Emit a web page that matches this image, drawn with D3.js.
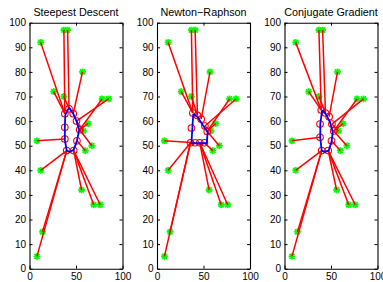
<!DOCTYPE html>
<html>
<head>
<meta charset="utf-8">
<script src="https://cdn.jsdelivr.net/npm/d3@7"></script>
<style>
  body { margin: 0; background: #fff; }
  svg { display: block; font-family: "Liberation Sans", Arial, Helvetica, sans-serif; }
</style>
</head>
<body>
<div id="chart"></div>
<script>
// Cable net solved three ways: fixed anchors (green), free nodes (red o), ring (blue)

const titles = ["Steepest Descent", "Newton\u2212Raphson", "Conjugate Gradient"];

// fixed anchor points [x, y]
const anchors = [
  [8, 5], [14, 15], [12, 40], [8, 52], [12, 92], [26, 72], [37, 70],
  [37, 97], [41, 97], [57, 80], [78, 69], [85, 69], [63, 59], [58, 56],
  [67, 50], [60, 48], [56, 32], [69, 26], [76, 26]
];

// which free node each anchor is tied to
const links = [7, 7, 7, 8, 0, 0, 1, 0, 1, 2, 4, 3, 4, 3, 4, 5, 6, 6, 6];

// free node positions for each method
const nodesSD = [
  [38, 63], [42.5, 65], [47, 63], [50.5, 60], [54, 56.5],
  [51, 52], [47.5, 48], [40, 48], [38, 52.7], [38, 57.5]
];
const nodesNR = [
  [38.5, 63.3], [43.5, 62.3], [47.5, 60.8], [51.5, 58], [54, 55.8],
  [51, 51.2], [46, 51.2], [36, 51.2], [41, 51.2], [37, 57.2]
];
const nodesCG = [
  [39.5, 64.5], [44, 63.3], [48, 61.8], [51, 58.8], [53, 56],
  [50.5, 52], [47, 48], [40, 48], [38.2, 53.4], [38.2, 58.8]
];

// blue ring through the free nodes
const ringSD = [
  [42.5, 65.5], [47, 63], [50.5, 60], [53.5, 56.5], [51, 52], [47.5, 48.3],
  [43, 47.5], [40, 48], [38, 52.5], [38, 57.5], [38.5, 62.5], [42.5, 65.5]
];
const ringNR = [
  [39, 63], [44, 61.5], [49, 58.5], [54.5, 55.5], [53.5, 51],
  [37, 51], [39, 63]
];
const ringCG = [
  [40.5, 64.5], [45, 62.5], [49, 59.5], [52, 55.5], [50.5, 51.5], [47.5, 48],
  [43, 47.5], [40, 48], [38.5, 53], [38.5, 59], [40.5, 64.5]
];

const yTicks = d3.range(0, 101, 10);
const xTicks = [0, 50, 100];

const panels = [
  { title: titles[0], nodes: nodesSD, ring: ringSD },
  { title: titles[1], nodes: nodesNR, ring: ringNR },
  { title: titles[2], nodes: nodesCG, ring: ringCG }
];

const W = 383, H = 282;
const svg = d3.select("#chart").append("svg").attr("width", W).attr("height", H);

const axLeft = [29.5, 157, 284.5], axW = 93;
const axTop = 22.7, axBot = 268.7;

panels.forEach((p, i) => {
  const x = d3.scaleLinear().domain([0, 100]).range([axLeft[i], axLeft[i] + axW]);
  const y = d3.scaleLinear().domain([0, 100]).range([axBot, axTop]);
  const g = svg.append("g");

  // green anchors (asterisk, drawn heavy so it reads as a blob)
  const star = g.append("g").selectAll("g").data(anchors).enter().append("g")
    .attr("transform", d => `translate(${x(d[0])},${y(d[1])})`);
  star.append("circle").attr("r", 2).attr("fill", "#00ff00");
  [[-3.4, 0, 3.4, 0], [0, -3.4, 0, 3.4], [-2.5, -2.5, 2.5, 2.5], [-2.5, 2.5, 2.5, -2.5]].forEach(s => {
    star.append("line")
      .attr("x1", s[0]).attr("y1", s[1]).attr("x2", s[2]).attr("y2", s[3])
      .attr("stroke", "#00ff00").attr("stroke-width", 1.8);
  });

  // red ties
  g.append("g").selectAll("line").data(anchors).enter().append("line")
    .attr("x1", d => x(d[0])).attr("y1", d => y(d[1]))
    .attr("x2", (d, k) => x(p.nodes[links[k]][0]))
    .attr("y2", (d, k) => y(p.nodes[links[k]][1]))
    .attr("stroke", "#ff0000").attr("stroke-width", 1.5);

  // free nodes
  g.append("g").selectAll("circle").data(p.nodes).enter().append("circle")
    .attr("cx", d => x(d[0])).attr("cy", d => y(d[1])).attr("r", 3.3)
    .attr("fill", "none").attr("stroke", "#ff0000").attr("stroke-width", 1.1);

  // blue ring
  g.append("path").datum(p.ring)
    .attr("d", d3.line().x(d => x(d[0])).y(d => y(d[1])))
    .attr("fill", "none").attr("stroke", "#0000ff").attr("stroke-width", 1.8)
    .attr("stroke-linejoin", "round");

  // axes, ticks pointing in
  const ax = (axis, tx, ty, labels) => {
    const a = g.append("g").attr("transform", `translate(${tx},${ty})`)
      .call(axis.tickSizeInner(-3).tickSizeOuter(0).tickPadding(labels ? 3.5 : 0));
    if (!labels) a.selectAll("text").remove();
    a.selectAll("path,line").attr("stroke", "#000");
    a.select(".domain").attr("stroke-width", 1.1);
    a.selectAll("text").attr("font-size", 10).attr("fill", "#000")
      .attr("font-family", "Liberation Sans, Arial, sans-serif");
    return a;
  };
  ax(d3.axisLeft(y).tickValues(yTicks), axLeft[i], 0, true);
  ax(d3.axisRight(y).tickValues(yTicks), axLeft[i] + axW, 0, false);
  ax(d3.axisBottom(x).tickValues(xTicks), 0, axBot, true).selectAll("text").attr("dy", "0.78em");
  ax(d3.axisTop(x).tickValues(xTicks), 0, axTop, false);

  g.append("text")
    .attr("x", axLeft[i] + axW / 2).attr("y", 16)
    .attr("text-anchor", "middle").attr("font-size", 10.8)
    .text(p.title);
});
</script>
</body>
</html>
